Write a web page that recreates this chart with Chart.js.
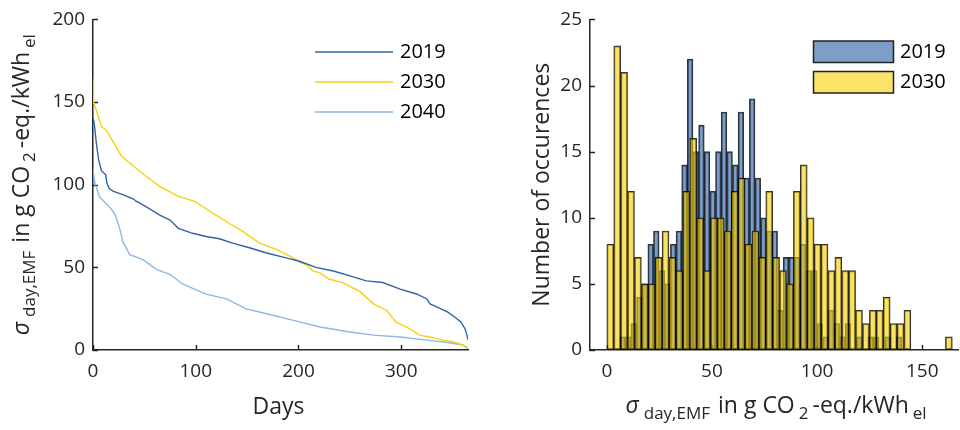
<!DOCTYPE html>
<html>
<head>
<meta charset="utf-8">
<script src="https://cdn.jsdelivr.net/npm/chart.js@4.4.1/dist/chart.umd.min.js"></script>
<style>
  html, body { margin: 0; padding: 0; background: #fff; }
  #wrap { position: relative; width: 960px; height: 430px; overflow: hidden; }
  #left { position: absolute; left: 0; top: 0; }
  #right { position: absolute; left: 490px; top: 0; }
</style>
</head>
<body>
<div id="wrap">
  <canvas id="left" width="490" height="430"></canvas>
  <canvas id="right" width="470" height="430"></canvas>
</div>
<script>
// sorted daily sigma (duration curves)
const days2019 = [0, 1, 3.3, 5.5, 8.2, 12.4, 13.5, 16, 20, 29, 39, 42, 52, 65, 75, 83, 97, 110, 123, 136, 153, 169, 188, 201, 217, 234, 250, 266, 282, 299, 315, 325, 328, 335, 345, 352, 358, 362, 364, 365];
const sigma2019 = [140, 138, 125, 115, 108.5, 106, 101, 97.5, 96, 94, 91.5, 90, 86.6, 81.6, 78.6, 73.6, 70.6, 68.7, 67.3, 64.7, 61.7, 58.7, 55.7, 53.7, 50, 47.8, 44.8, 41.8, 40.8, 36.8, 33.9, 30.9, 27.9, 26, 23, 20, 17, 13, 9, 6];

const days2030 = [0, 0.5, 1, 3.3, 8.2, 13, 21, 27.6, 39, 48.7, 65, 81, 100, 117, 130, 146, 162, 179, 195, 201, 208, 214, 221, 230, 243, 260, 273, 286, 295, 308, 318, 328, 340, 350, 358, 365];
const sigma2030 = [164, 150, 149, 145, 135, 133, 124.4, 117.4, 111.5, 106.5, 99, 93.5, 89.6, 82.6, 77.6, 71.6, 64.7, 60.7, 55.7, 53, 51.5, 47.8, 46.7, 42.8, 40.8, 35.3, 27.9, 23.9, 16.9, 13, 9, 7.9, 6, 5, 3.5, 1.5];

const days2040 = [0, 1.7, 6.5, 16, 21, 26, 29, 35.7, 48.7, 61.7, 74.7, 87.6, 110, 130, 149, 169, 195, 221, 250, 273, 299, 325, 345, 360, 365];
const sigma2040 = [109.4, 101.5, 92.5, 86.6, 82.6, 73.6, 65.7, 57.7, 54.7, 48.8, 45.8, 39.8, 33.8, 30.9, 24.9, 21.9, 17.9, 13.9, 10.9, 9, 7.9, 6, 4.5, 3, 1];

// histograms (50 bins each)
const numBins = 50;
const binLimits2019 = [6.1, 140.2];
const binLimits2030 = [0, 164.3];
const counts2019 = [1, 1, 2, 4, 5, 8, 9, 6, 5, 8, 9, 14, 22, 15, 17, 15, 12, 15, 18, 15, 14, 18, 13, 19, 13, 10, 9, 9, 3, 7, 7, 7, 8, 6, 6, 2, 1, 3, 2, 1, 2, 0, 1, 0, 1, 1, 0, 1, 0, 1];
const counts2030 = [8, 23, 21, 12, 7, 5, 5, 7, 9, 7, 6, 12, 16, 10, 6, 10, 10, 9, 12, 13, 8, 9, 7, 12, 7, 6, 5, 12, 14, 10, 8, 8, 6, 7, 6, 6, 3, 2, 3, 3, 4, 2, 2, 3, 0, 0, 0, 0, 0, 1];

const xTicksDays = [0, 100, 200, 300];
const yTicksSigma = [0, 50, 100, 150, 200];
const xTicksHist = [0, 50, 100, 150];
const yTicksCount = [0, 5, 10, 15, 20, 25];

const axisColor = '#262626';
const fontFam = "'Open Sans', 'Noto Sans', sans-serif";
const tickFont = { family: fontFam, size: 19 };

function binCenters(lim, n) {
  const w = (lim[1] - lim[0]) / n;
  return Array.from({ length: n }, (_, i) => lim[0] + w * (i + 0.5));
}

function toPoints(xs, ys) {
  return xs.map((x, i) => ({ x: x, y: ys[i] }));
}

// text with subscripts, drawn centred at (cx, cy)
const sigmaLabel = [
  ['σ', 'it'], [5], ['day,EMF', 'sub'], [8], ['in g CO', ''], [4], ['2', 'sub'], [4], ['-eq./kWh', ''], [4], ['el', 'sub']
];
function richText(ctx, parts, cx, cy, vertical) {
  const main = '23px ' + fontFam, sub = '17px ' + fontFam, it = 'italic 23px ' + fontFam;
  ctx.save();
  ctx.translate(cx, cy);
  if (vertical) ctx.rotate(-Math.PI / 2);
  ctx.textBaseline = 'middle';
  ctx.fillStyle = axisColor;
  let total = 0;
  const widths = parts.map(p => {
    if (typeof p[0] === 'number') { total += p[0]; return p[0]; }
    ctx.font = p[1] === 'sub' ? sub : (p[1] === 'it' ? it : main);
    const w = ctx.measureText(p[0]).width;
    total += w;
    return w;
  });
  let x = -total / 2;
  parts.forEach((p, i) => {
    if (typeof p[0] !== 'number') {
      ctx.font = p[1] === 'sub' ? sub : (p[1] === 'it' ? it : main);
      ctx.fillText(p[0], x, p[1] === 'sub' ? 8 : 0);
    }
    x += widths[i];
  });
  ctx.restore();
}

// MATLAB style ticks, pointing into the plot
const inwardTicks = {
  id: 'inwardTicks',
  beforeDatasetsDraw(chart) {
    const { ctx, chartArea: a } = chart;
    const xs = chart.scales.x, ys = chart.scales.y;
    ctx.save();
    ctx.strokeStyle = axisColor;
    ctx.lineWidth = 1.5;
    ctx.beginPath();
    xs.ticks.forEach(t => {
      const px = Math.round(xs.getPixelForValue(t.value)) + 0.5;
      ctx.moveTo(px, a.bottom); ctx.lineTo(px, a.bottom - 5);
    });
    ys.ticks.forEach(t => {
      const py = Math.round(ys.getPixelForValue(t.value)) + 0.5;
      ctx.moveTo(a.left, py); ctx.lineTo(a.left + 5, py);
    });
    ctx.stroke();
    ctx.restore();
  }
};

function keepTicks(list) {
  return scale => { scale.ticks = list.map(v => ({ value: v })); };
}

function axis(min, max, ticks, size, isX) {
  return {
    type: 'linear', min: min, max: max, offset: false,
    afterBuildTicks: keepTicks(ticks),
    afterFit: s => { if (isX) s.height = size; else s.width = size; },
    grid: { display: true, drawOnChartArea: false, drawTicks: false, offset: false },
    border: { display: true, color: axisColor, width: 1.5 },
    ticks: { color: axisColor, font: tickFont, padding: isX ? 10 : 8, maxRotation: 0, autoSkip: false }
  };
}

// ---- left: duration curves
const lineColors = { y2019: '#2f64a6', y2030: '#f6d10f', y2040: '#8fb6e6' };

new Chart(document.getElementById('left'), {
  type: 'line',
  data: {
    datasets: [
      { label: '2019', data: toPoints(days2019, sigma2019), borderColor: lineColors.y2019 },
      { label: '2030', data: toPoints(days2030, sigma2030), borderColor: lineColors.y2030 },
      { label: '2040', data: toPoints(days2040, sigma2040), borderColor: lineColors.y2040 }
    ]
  },
  options: {
    responsive: false,
    animation: false,
    layout: { padding: { top: 15, right: 22, left: 0, bottom: 0 } },
    elements: { line: { borderWidth: 1.4, tension: 0 }, point: { radius: 0 } },
    scales: {
      x: axis(0, 365, xTicksDays, 80, true),
      y: axis(0, 200, yTicksSigma, 93, false)
    },
    plugins: { legend: { display: false }, tooltip: { enabled: false } }
  },
  plugins: [inwardTicks, {
    id: 'leftDecor',
    afterDraw(chart) {
      const ctx = chart.ctx;
      ctx.save();
      chart.data.datasets.forEach((ds, i) => {
        const y = 52 + i * 30;
        ctx.strokeStyle = ds.borderColor;
        ctx.lineWidth = 1.5;
        ctx.beginPath(); ctx.moveTo(315, y); ctx.lineTo(393, y); ctx.stroke();
        ctx.fillStyle = '#000';
        ctx.font = '20px ' + fontFam;
        ctx.textBaseline = 'middle';
        ctx.fillText(ds.label, 400, y);
      });
      ctx.fillStyle = axisColor;
      ctx.font = '23px ' + fontFam;
      ctx.textAlign = 'center';
      ctx.textBaseline = 'middle';
      const a = chart.chartArea;
      ctx.fillText('Days', (a.left + a.right) / 2 - 2, 407);
      ctx.restore();
      richText(ctx, sigmaLabel, 22, (a.top + a.bottom) / 2, true);
    }
  }]
});

// ---- right: histograms
const histFill = { y2019: 'rgba(42,94,161,0.6)', y2030: 'rgba(247,207,0,0.6)' };
const legendFill = { y2019: '#7f9ec7', y2030: '#fae366' };

const centers2019 = binCenters(binLimits2019, numBins);
const centers2030 = binCenters(binLimits2030, numBins);

// second, hidden x axis so each histogram gets its own bin width
const hx2 = {
  type: 'linear', min: -8, max: 167, offset: false, display: false,
  afterBuildTicks: keepTicks(xTicksHist)
};

new Chart(document.getElementById('right'), {
  type: 'bar',
  data: {
    datasets: [
      { label: '2019', xAxisID: 'x2', order: 2, data: toPoints(centers2019, counts2019), backgroundColor: histFill.y2019 },
      { label: '2030', xAxisID: 'x', order: 1, data: toPoints(centers2030, counts2030), backgroundColor: histFill.y2030 }
    ]
  },
  options: {
    responsive: false,
    animation: false,
    layout: { padding: { top: 16, right: 2, left: 0, bottom: 0 } },
    datasets: {
      bar: {
        barPercentage: 1, categoryPercentage: 1, grouped: false,
        borderColor: 'rgba(0,0,0,0.8)', borderWidth: 1.2, borderSkipped: false
      }
    },
    scales: {
      x: axis(-8, 167, xTicksHist, 80, true),
      x2: hx2,
      y: axis(0, 25, yTicksCount, 100, false)
    },
    plugins: { legend: { display: false }, tooltip: { enabled: false } }
  },
  plugins: [inwardTicks, {
    id: 'rightDecor',
    afterDraw(chart) {
      const ctx = chart.ctx;
      const a = chart.chartArea;
      ctx.save();
      [['2019', legendFill.y2019], ['2030', legendFill.y2030]].forEach(([lab, col], i) => {
        const y = 41 + i * 30.5;
        ctx.fillStyle = col;
        ctx.fillRect(323.5, y, 80, 21.5);
        ctx.strokeStyle = '#222';
        ctx.lineWidth = 1.5;
        ctx.strokeRect(323.5, y, 80, 21.5);
        ctx.fillStyle = '#000';
        ctx.font = '20px ' + fontFam;
        ctx.textBaseline = 'middle';
        ctx.fillText(lab, 410, y + 11);
      });
      ctx.restore();
      richText(ctx, [['Number of occurences', '']], 52, (a.top + a.bottom) / 2, true);
      richText(ctx, sigmaLabel, (a.left + a.right) / 2 + 2, 406, false);
    }
  }]
});
</script>
</body>
</html>
